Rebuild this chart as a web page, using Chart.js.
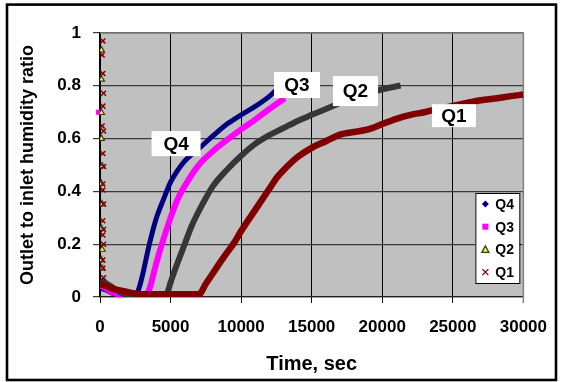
<!DOCTYPE html>
<html>
<head>
<meta charset="utf-8">
<script src="https://cdn.jsdelivr.net/npm/chart.js@4.4.1/dist/chart.umd.min.js"></script>
<style>
  html, body { margin: 0; padding: 0; background: #fff; overflow: hidden; }
  #wrap { width: 561px; height: 382px; position: relative; }
</style>
</head>
<body>
<div id="wrap"><canvas id="chart" width="561" height="382"></canvas></div>
<script>
// tick values
const timeTicks = [0, 5000, 10000, 15000, 20000, 25000, 30000];
const ratioTicks = [0, 0.2, 0.4, 0.6, 0.8, 1];

// Q4 curve
const q4Time  = [0, 500, 1000, 1500, 2000, 2500, 2800, 3000, 3500, 4000, 4500, 5000, 5500, 6000, 6500, 7000, 8000, 9000, 10000, 11000, 12000, 12450];
const q4Ratio = [0.035, 0.025, 0.012, 0.004, 0.0, 0.0, 0.04, 0.08, 0.2, 0.3, 0.37, 0.435, 0.48, 0.515, 0.54, 0.562, 0.61, 0.655, 0.69, 0.722, 0.76, 0.782];

// Q3 curve
const q3Time  = [0, 500, 1000, 1500, 2000, 3000, 3300, 3500, 4000, 4500, 5000, 5500, 6000, 7000, 8000, 9000, 10000, 11000, 12000, 13100];
const q3Ratio = [0.045, 0.03, 0.015, 0.006, 0.0, 0.0, 0.008, 0.03, 0.13, 0.22, 0.3, 0.37, 0.42, 0.5, 0.552, 0.595, 0.635, 0.672, 0.712, 0.753];

// Q2 curve
const q2Time  = [0, 500, 1000, 1500, 2000, 3000, 4500, 4800, 5000, 5500, 6000, 6500, 7000, 7500, 8000, 9000, 10000, 11000, 12000, 13000, 14000, 15000, 16000, 17000, 18000, 19000, 20000, 21300];
const q2Ratio = [0.062, 0.05, 0.032, 0.016, 0.006, 0.0, 0.0, 0.02, 0.055, 0.13, 0.2, 0.27, 0.325, 0.375, 0.42, 0.482, 0.535, 0.58, 0.613, 0.64, 0.667, 0.69, 0.712, 0.735, 0.755, 0.772, 0.787, 0.801];

// Q1 curve
const q1Time  = [0, 500, 1000, 1500, 2000, 3000, 5000, 7000, 7500, 8000, 8500, 9000, 9500, 10000, 11000, 12000, 12500, 13000, 14000, 15000, 16000, 17000, 18000, 19000, 20000, 21000, 22000, 23000, 24000, 25000, 26000, 27000, 28000, 29000, 30000];
const q1Ratio = [0.05, 0.04, 0.03, 0.024, 0.018, 0.01, 0.01, 0.01, 0.05, 0.09, 0.13, 0.168, 0.205, 0.25, 0.33, 0.41, 0.45, 0.48, 0.53, 0.565, 0.59, 0.615, 0.625, 0.635, 0.655, 0.675, 0.69, 0.7, 0.713, 0.724, 0.735, 0.745, 0.752, 0.76, 0.767];

// early scattered readings near t = 0
const q1SpikeTime  = [200, 150, 200, 250, 200, 150, 250, 200, 250, 200, 200, 250, 200, 250, 200, 250, 200, 200, 250];
const q1SpikeRatio = [0.97, 0.917, 0.847, 0.772, 0.723, 0.648, 0.629, 0.544, 0.494, 0.428, 0.405, 0.352, 0.289, 0.256, 0.235, 0.2, 0.14, 0.109, 0.073];
const q2SpikeTime  = [100, 100, 100, 100, 150, 100, 150, 100, 150, 100, 150];
const q2SpikeRatio = [0.935, 0.824, 0.698, 0.6, 0.496, 0.43, 0.352, 0.26, 0.18, 0.14, 0.109];
const q3SpikeTime  = [-100];
const q3SpikeRatio = [0.7];

const seriesNames = ['Q4', 'Q3', 'Q2', 'Q1'];

function toPoints(xs, ys) {
    return xs.map((x, i) => ({ x: x, y: ys[i] }));
}

const colors = {
    Q4: '#000080',
    Q3: '#ff00ff',
    Q2: '#363636',
    Q1: '#800000'
};

function curve(name, xs, ys, width, order) {
    return {
        label: name,
        data: toPoints(xs, ys),
        showLine: true,
        borderColor: colors[name],
        borderWidth: width,
        pointRadius: 0,
        cubicInterpolationMode: 'monotone',
        order: order
    };
}

// little marker drawing helper for the legend
function drawMarker(ctx, name, x, y) {
    ctx.save();
    ctx.lineWidth = 1.3;
    if (name === 'Q4') {
        ctx.fillStyle = colors.Q4;
        ctx.beginPath();
        ctx.moveTo(x, y - 3.5); ctx.lineTo(x + 3.5, y); ctx.lineTo(x, y + 3.5); ctx.lineTo(x - 3.5, y);
        ctx.closePath(); ctx.fill();
    } else if (name === 'Q3') {
        ctx.fillStyle = colors.Q3;
        ctx.fillRect(x - 3, y - 3, 6, 6);
    } else if (name === 'Q2') {
        ctx.fillStyle = '#ffff00';
        ctx.strokeStyle = colors.Q2;
        ctx.beginPath();
        ctx.moveTo(x, y - 3.5); ctx.lineTo(x + 3.5, y + 3); ctx.lineTo(x - 3.5, y + 3);
        ctx.closePath(); ctx.fill(); ctx.stroke();
    } else {
        ctx.strokeStyle = colors.Q1;
        ctx.beginPath();
        ctx.moveTo(x - 3, y - 3); ctx.lineTo(x + 3, y + 3);
        ctx.moveTo(x + 3, y - 3); ctx.lineTo(x - 3, y + 3);
        ctx.stroke();
    }
    ctx.restore();
}

// text boxes on the curves (centre in data units)
const curveLabels = [
    { text: 'Q4', x: 5390, y: 0.581, w: 49, h: 25 },
    { text: 'Q3', x: 13960, y: 0.803, w: 46, h: 26 },
    { text: 'Q2', x: 18100, y: 0.78, w: 45, h: 30 },
    { text: 'Q1', x: 25080, y: 0.687, w: 44, h: 23 }
];

const plotDecor = {
    id: 'plotDecor',
    beforeDraw(chart) {
        const { ctx, chartArea: a } = chart;
        ctx.save();
        ctx.fillStyle = '#c0c0c0';
        ctx.fillRect(a.left, a.top, a.right - a.left, a.bottom - a.top);
        ctx.restore();
    },
    beforeDatasetsDraw(chart) {
        const { ctx, chartArea: a } = chart;
        ctx.save();
        ctx.strokeStyle = '#808080';
        ctx.lineWidth = 1.5;
        ctx.beginPath();
        ctx.moveTo(a.left, a.top); ctx.lineTo(a.right, a.top); ctx.lineTo(a.right, a.bottom + 6);
        ctx.stroke();
        ctx.restore();
    },
    afterDraw(chart) {
        const { ctx, chartArea: a, scales } = chart;
        ctx.save();
        // labels on curves
        ctx.font = 'bold 19px "Liberation Sans", Arial, sans-serif';
        ctx.textAlign = 'center';
        ctx.textBaseline = 'middle';
        curveLabels.forEach(l => {
            const cx = scales.x.getPixelForValue(l.x);
            const cy = scales.y.getPixelForValue(l.y);
            ctx.fillStyle = '#fff';
            ctx.fillRect(cx - l.w / 2, cy - l.h / 2, l.w, l.h);
            ctx.fillStyle = '#000';
            ctx.fillText(l.text, cx, cy + 1);
        });

        // legend box
        const lx = a.right - 48, ly = a.top + 160, lw = 44, lh = 90;
        ctx.fillStyle = '#fff';
        ctx.fillRect(lx, ly, lw, lh);
        ctx.strokeStyle = '#000';
        ctx.lineWidth = 1;
        ctx.strokeRect(lx + 0.5, ly + 0.5, lw, lh);
        ctx.font = 'bold 14px "Liberation Sans", Arial, sans-serif';
        ctx.textAlign = 'left';
        seriesNames.forEach((n, i) => {
            const yy = ly + 11 + i * 22.7;
            drawMarker(ctx, n, lx + 10, yy);
            ctx.fillStyle = '#000';
            ctx.fillText(n, lx + 20, yy + 1);
        });

        // outer frame
        ctx.strokeStyle = '#000';
        ctx.lineWidth = 2.6;
        ctx.strokeRect(7, 4.6, 549, 375.4);
        ctx.restore();
    }
};

new Chart(document.getElementById('chart'), {
    type: 'scatter',
    data: {
        datasets: [
            curve('Q1', q1Time, q1Ratio, 6.5, 1),
            curve('Q2', q2Time, q2Ratio, 6, 2),
            curve('Q3', q3Time, q3Ratio, 6, 3),
            curve('Q4', q4Time, q4Ratio, 5, 4),
            {
                label: 'Q1 early',
                data: toPoints(q1SpikeTime, q1SpikeRatio),
                pointStyle: 'crossRot',
                pointRadius: 3.5,
                borderColor: colors.Q1,
                borderWidth: 1.5,
                order: 0
            },
            {
                label: 'Q2 early',
                data: toPoints(q2SpikeTime, q2SpikeRatio),
                pointStyle: 'triangle',
                pointRadius: 3.5,
                backgroundColor: '#ffff00',
                borderColor: colors.Q2,
                borderWidth: 1.2,
                order: 0
            },
            {
                label: 'Q3 early',
                data: toPoints(q3SpikeTime, q3SpikeRatio),
                pointStyle: 'rect',
                pointRadius: 3,
                backgroundColor: colors.Q3,
                borderColor: colors.Q3,
                clip: false,
                order: 0
            }
        ]
    },
    options: {
        responsive: false,
        animation: false,
        events: [],
        layout: { padding: { left: 7, top: 33, right: 27, bottom: 0 } },
        plugins: { legend: { display: false }, tooltip: { enabled: false } },
        scales: {
            x: {
                type: 'linear',
                min: 0,
                max: 30000,
                afterFit(scale) { scale.height = 85; },
                afterBuildTicks(scale) { scale.ticks = timeTicks.map(v => ({ value: v })); },
                grid: { color: '#000', lineWidth: 1, tickLength: 6 },
                border: { color: '#222', width: 1.2 },
                ticks: {
                    maxRotation: 0,
                    padding: 14,
                    color: '#000',
                    font: { family: '"Liberation Sans", Arial, sans-serif', size: 17, weight: 'bold' },
                    callback: v => String(v)
                },
                title: {
                    display: true,
                    text: 'Time, sec',
                    color: '#000',
                    padding: { top: 4, bottom: 6 },
                    font: { family: '"Liberation Sans", Arial, sans-serif', size: 20, weight: 'bold' }
                }
            },
            y: {
                min: 0,
                max: 1,
                afterFit(scale) { scale.width = 93; },
                afterBuildTicks(scale) { scale.ticks = ratioTicks.map(v => ({ value: v })); },
                grid: { color: '#3a3a3a', lineWidth: 1.2, tickLength: 7 },
                border: { color: '#000', width: 1.2 },
                ticks: {
                    padding: 12,
                    color: '#000',
                    font: { family: '"Liberation Sans", Arial, sans-serif', size: 17, weight: 'bold' },
                    callback: v => String(v)
                },
                title: {
                    display: true,
                    text: 'Outlet to inlet humidity ratio',
                    color: '#000',
                    padding: { top: 10, bottom: 0 },
                    font: { family: '"Liberation Sans", Arial, sans-serif', size: 18, weight: 'bold' }
                }
            }
        }
    },
    plugins: [plotDecor]
});
</script>
</body>
</html>
